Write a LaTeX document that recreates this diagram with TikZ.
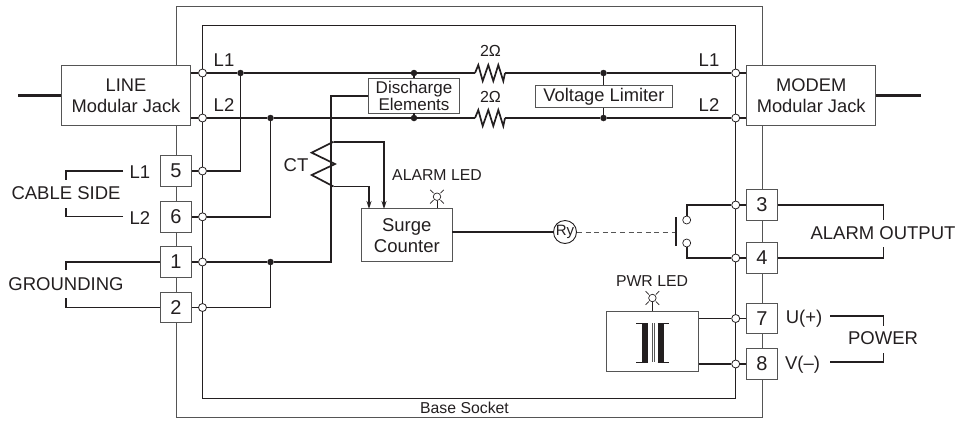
\documentclass[tikz,border=0pt]{standalone}
\usepackage{fontspec}
\setmainfont{Liberation Sans}
\usetikzlibrary{arrows.meta,calc}
\definecolor{ink}{HTML}{231F20}
\definecolor{frame}{HTML}{555555}
\tikzset{
  shell/.style={draw=frame,line width=1pt,fill=none,inner sep=0pt},
  plate/.style={draw=ink,line width=0.9pt,fill=white,inner sep=0pt,align=center,text=ink},
  terminal/.style={plate,draw=frame,minimum width=30.5pt,minimum height=30.5pt,font=\fontsize{20}{23}\selectfont},
  jack/.style={plate,draw=frame,minimum width=129pt,minimum height=60pt,font=\fontsize{18.3}{21}\selectfont},
  hole/.style={circle,draw=ink,line width=0.8pt,fill=white,minimum size=8pt,inner sep=0pt},
  dot/.style={circle,fill=ink,minimum size=6.5pt,inner sep=0pt},
  wire/.style={draw=ink,line width=1.7pt},
  thinwire/.style={draw=ink,line width=1.4pt},
  bus/.style={draw=ink,line width=2.4pt},
  label/.style={inner sep=0pt,text=ink,font=\fontsize{18.5}{21}\selectfont,align=center},
  small/.style={inner sep=0pt,text=ink,font=\fontsize{15.8}{18}\selectfont},
  ray/.style={draw=ink,line width=0.7pt},
  sense/.style={wire,-{Stealth[length=8pt,width=5pt]}},
}
\newcommand{\resistor}[2]{%
  \draw[wire,line join=miter] (#1,#2) -- ++(3.3,-8) -- ++(4.4,16) -- ++(5.6,-16) -- ++(5,16) -- ++(5,-16) -- ++(5,16) -- ++(1.7,-8);}
\newcommand{\ledlamp}[3]{%
  \node[circle,draw=ink,line width=0.7pt,fill=white,minimum size=7.5pt,inner sep=0pt] (#3) at (#1,#2) {};
  \draw[ray] (#1-3.5,#2-3.5) -- ++(-3.3,-3.3) (#1+3.5,#2-3.5) -- ++(3.3,-3.3)
             (#1-3.5,#2+3.5) -- ++(-3.3,3.3) (#1+3.5,#2+3.5) -- ++(3.3,3.3);}
\begin{document}
\begin{tikzpicture}[x=1pt,y=-1pt]
\useasboundingbox (0,0) rectangle (958,421);
% housings
\node[shell,minimum width=586pt,minimum height=411pt] (outer) at (469,211.5) {};
\node[shell,draw=ink,minimum width=533.5pt,minimum height=373pt] (inner) at (469.2,211.5) {};
% jacks
\node[jack] (line) at (126,95.5) {LINE\\Modular Jack};
\node[jack] (modem) at (811.2,95.5) {MODEM\\Modular Jack};
% terminals
\node[terminal] (t5) at (176,171) {5};
\node[terminal] (t6) at (176,216.8) {6};
\node[terminal] (t1) at (176,262) {1};
\node[terminal] (t2) at (176,307.5) {2};
\node[terminal] (t3) at (762,205) {3};
\node[terminal] (t4) at (762,258) {4};
\node[terminal] (t7) at (762,318.5) {7};
\node[terminal] (t8) at (762,364) {8};
% named points
\coordinate (lstub) at (18,95.5);
\coordinate (rstub) at (921,95.5);
\foreach \n/\x/\y in {cl1/202.5/73,cl2/202.5/118,c5/202.5/171,c6/202.5/216.8,c1/202.5/262,c2/202.5/307.5,
  cr1/735.7/73,cr2/735.7/118,c3/735.7/205,c4/735.7/258,c7/735.7/318.5,c8/735.7/364}
  {\node[hole] (\n) at (\x,\y) {};}
\coordinate (r1a) at (475,73);
\coordinate (r1b) at (505,73);
\coordinate (r2a) at (475,118);
\coordinate (r2b) at (505,118);
% elements
\node[plate,draw=frame,minimum width=90.6pt,minimum height=34.4pt,font=\fontsize{17}{15.5}\selectfont] (dis) at (414,95.8) {Discharge\\Elements};
\node[plate,draw=frame,minimum width=136.6pt,minimum height=21.5pt,font=\fontsize{18.3}{20}\selectfont] (lim) at (604,96.4) {Voltage Limiter};
\node[plate,draw=frame,minimum width=90.4pt,minimum height=53pt,font=\fontsize{18.5}{21.5}\selectfont] (surge) at (406.8,235.4) {Surge\\Counter};
\node[plate,draw=frame,minimum width=91.4pt,minimum height=60.7pt] (psu) at (652.4,341.3) {};
\node[circle,draw=ink,line width=0.9pt,fill=white,minimum size=23pt,inner sep=0pt,font=\fontsize{15}{15}\selectfont,text=ink] (ry) at (565,232) {Ry};
\node[hole,line width=0.7pt] (sw1) at (686.7,220) {};
\node[hole,line width=0.7pt] (sw2) at (686.7,243) {};
\coordinate (bar1) at (676,217);
\coordinate (bar2) at (676,246);
% jack stubs
\draw[bus] (lstub) -- (line.west |- lstub);
\draw[bus] (modem.east |- rstub) -- (rstub);
% junction dots
\foreach \n/\x/\y in {j1/240.5/73,j2/270.5/118,j3/270.5/262,d1/414/73,d2/414/118,v1/603.5/73,v2/603.5/118}
  {\node[dot] (\n) at (\x,\y) {};}
% line pairs
\draw[wire] (line.east |- cl1) -- (cl1);
\draw[wire] (line.east |- cl2) -- (cl2);
\draw[wire] (cr1) -- (modem.west |- cr1);
\draw[wire] (cr2) -- (modem.west |- cr2);
\draw[wire] (cl1) -- (j1) -- (d1) -- (r1a);
\draw[wire] (cl2) -- (j2) -- (d2) -- (r2a);
\resistor{475}{73}
\resistor{475}{118}
\draw[wire] (r1b) -- (v1) -- (cr1);
\draw[wire] (r2b) -- (v2) -- (cr2);
\draw[wire] (c5) -| (j1);
\draw[wire] (c6) -| (j2);
\draw[wire] (d1) -- (d1 |- dis.north);
\draw[wire] (d2) -- (d2 |- dis.south);
\draw[wire] (v1) -- (v1 |- lim.north);
\draw[wire] (v2) -- (v2 |- lim.south);
% terminal stubs
\foreach \t/\c in {t5/c5,t6/c6,t1/c1,t2/c2}{\draw[wire] (\t) -- (\c);}
\foreach \t/\c in {t3/c3,t4/c4,t7/c7,t8/c8}{\draw[wire] (\c) -- (\t);}
% ground
\coordinate (g1) at (331,96);
\draw[wire] (c1) -- (j3) -- (g1 |- j3) -- (g1) -- (dis.west |- g1);
\draw[wire] (c2) -| (j3);
% CT
\coordinate (ct1) at (333.5,141.7);
\coordinate (ct2) at (333.5,186.5);
\draw[wire,line join=miter] (ct1) -- (311.7,152.7) -- (335,164) -- (311.7,175) -- (ct2);
\draw[sense] (ct1) -- (384,141.7) -- (384,209);
\draw[sense] (ct2) -- (369,186.5) -- (369,209);
% surge to relay to switch
\draw[wire] (surge.east |- ry) -- (ry);
\draw[draw=frame,line width=0.9pt,dash pattern=on 5pt off 3.6pt] (ry) -- (bar1 |- ry);
\draw[wire] (bar1) -- (bar2);
\draw[wire] (sw1) -- (sw1 |- c3) -- (c3);
\draw[wire] (sw2) -- (sw2 |- c4) -- (c4);
% PSU
\draw[wire] (psu.east |- c7) -- (c7);
\draw[wire] (psu.east |- c8) -- (c8);
\fill[ink] (642,323) rectangle (648,362);
\fill[ink] (657.5,323) rectangle (663.5,362);
\draw[line width=1pt,draw=ink] (636,323) -- (648,323) (636,362) -- (648,362);
\draw[line width=1pt,draw=ink] (657.5,323) -- (669,323) (657.5,362) -- (669,362);
\draw[draw=frame,line width=0.8pt] (652,323) -- (652,362) (654,323) -- (654,362);
% LEDs
\ledlamp{437}{196.7}{alamp}
\draw[ray,line width=1pt] (alamp) -- (alamp |- surge.north);
\ledlamp{652.4}{298}{plamp}
\draw[ray,line width=1pt] (plamp) -- (plamp |- psu.north);
% outside leads
\coordinate (o3) at (883.5,205);
\coordinate (o3e) at (883.5,220);
\coordinate (o4) at (883.5,258);
\coordinate (o4e) at (883.5,247);
\draw[thinwire] (t3) -- (o3) -- (o3e);
\draw[thinwire] (t4) -- (o4) -- (o4e);
\coordinate (p1s) at (830,316);
\coordinate (p1) at (883.5,316);
\coordinate (p1e) at (883.5,326);
\coordinate (p2s) at (830,362);
\coordinate (p2) at (883.5,362);
\coordinate (p2e) at (883.5,353);
\draw[thinwire] (p1s) -- (p1) -- (p1e);
\draw[thinwire] (p2s) -- (p2) -- (p2e);
\coordinate (a1s) at (123,171);
\coordinate (a1) at (66,171);
\coordinate (a1e) at (66,180);
\coordinate (a2s) at (123,216.5);
\coordinate (a2) at (66,216.5);
\coordinate (a2e) at (66,208);
\draw[thinwire] (a1s) -- (a1) -- (a1e);
\draw[thinwire] (a2s) -- (a2) -- (a2e);
\coordinate (b1) at (66,262);
\coordinate (b1e) at (66,270);
\coordinate (b2) at (66,307.5);
\coordinate (b2e) at (66,298);
\draw[thinwire] (t1) -- (b1) -- (b1e);
\draw[thinwire] (t2) -- (b2) -- (b2e);
% labels
\node[label] (tl1) at (224,60) {L1};
\node[label] (tl2) at (224,105.5) {L2};
\node[label] (tr1) at (709,60) {L1};
\node[label] (tr2) at (709,105.5) {L2};
\node[label] (tc1) at (140,172) {L1};
\node[label] (tc2) at (140,218) {L2};
\node[label] (cable) at (66,193.5) {CABLE SIDE};
\node[label] (gnd) at (66,284.5) {GROUNDING};
\node[label] (ct) at (296,165) {CT};
\node[small,font=\fontsize{16}{18}\selectfont] (o1) at (490.5,51) {2Ω};
\node[small,font=\fontsize{16}{18}\selectfont] (o2) at (490.5,97) {2Ω};
\node[small] (al) at (437,175.5) {ALARM LED};
\node[small] (pl) at (652,281.5) {PWR LED};
\node[label] (aout) at (883,233.5) {ALARM OUTPUT};
\node[label] (pow) at (883,338.5) {POWER};
\node[label] (u) at (804,318.5) {U(+)};
\node[label] (v) at (802.5,364.5) {V(–)};
\node[small] (base) at (464.5,408.3) {Base Socket};
\end{tikzpicture}
\end{document}
